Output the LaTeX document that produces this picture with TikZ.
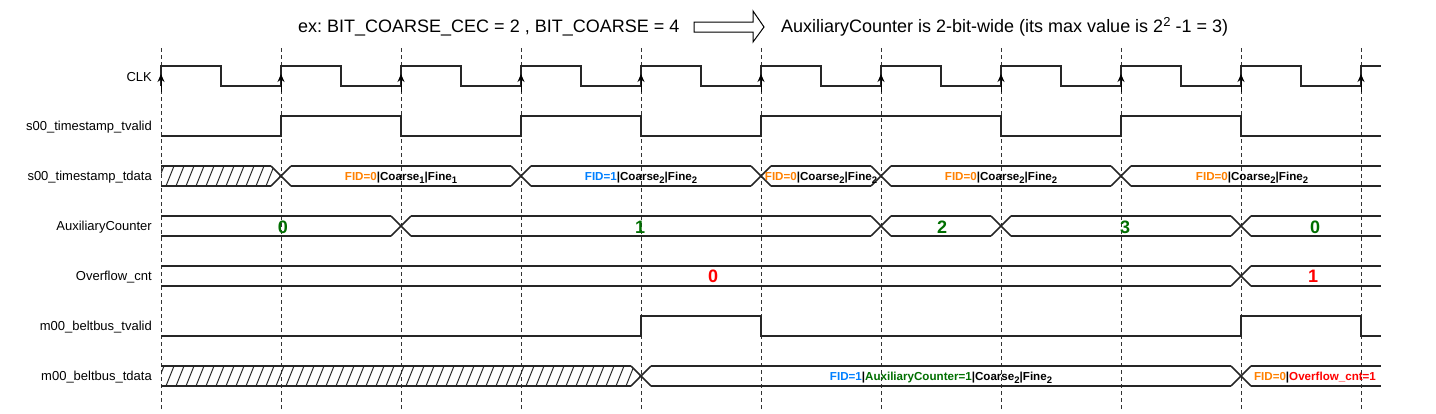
\documentclass[tikz,border=0pt]{standalone}
\usepackage{fontspec}
\setmainfont{Liberation Sans}
\usepackage{tikz}
\usetikzlibrary{arrows.meta}

\definecolor{fidorange}{RGB}{255,128,0}
\definecolor{fidblue}{RGB}{0,127,255}
\definecolor{cntgreen}{RGB}{0,110,0}
\definecolor{ovfred}{RGB}{255,0,0}
\newcommand{\busidx}[1]{\raisebox{-2.5pt}{\fontsize{9.5}{10}\selectfont #1}}
\frenchspacing

\begin{document}
\begin{tikzpicture}[
    x=1pt, y=-1pt,
    signal/.style={draw=black!85, line width=1.6pt, line join=miter},
    gridline/.style={draw=black!80, line width=0.7pt, dash pattern=on 4pt off 3pt},
    hatchline/.style={draw=black!85, line width=1pt},
    clkarrow/.style={draw=black, line width=1pt, -{Stealth[length=8pt, width=7pt]}},
    labeltext/.style={anchor=base east, inner sep=0pt, font=\fontsize{13}{15}\selectfont},
    bustext/.style={anchor=base, inner sep=0pt, font=\bfseries\fontsize{11.6}{14}\selectfont},
    busvalue/.style={anchor=base, inner sep=0pt, font=\bfseries\fontsize{18}{20}\selectfont},
    titletext/.style={anchor=base west, inner sep=0pt, font=\fontsize{18}{21}\selectfont},
]
\useasboundingbox (0,0) rectangle (1436,413);
% clock edges
\foreach \t in {161,281,...,1361} \draw[gridline] (\t,48) -- (\t,410);
% header
\node[titletext](param_text) at (298,32.5){ex: BIT\_COARSE\_CEC = 2 , BIT\_COARSE = 4};
\draw[line width=1pt, fill=white] (694,22) -- (753,22) -- (753,11) -- (764,27) -- (753,42) -- (753,32) -- (694,32) -- cycle;
\node[titletext](width_text) at (781,32.5){AuxiliaryCounter is 2-bit-wide (its max value is 2\raisebox{6pt}{\fontsize{13}{13}\selectfont 2} -1 = 3)};
% signal names
\node[labeltext](clk_text) at (152,81.5){CLK};
\node[labeltext](s_tvalid_text) at (152,130.5){s00\_timestamp\_tvalid};
\node[labeltext](s_tdata_text) at (152,180.5){s00\_timestamp\_tdata};
\node[labeltext](aux_text) at (152,230.5){AuxiliaryCounter};
\node[labeltext](ovf_text) at (152,280.5){Overflow\_cnt};
\node[labeltext](m_tvalid_text) at (152,330.5){m00\_beltbus\_tvalid};
\node[labeltext](m_tdata_text) at (152,380.5){m00\_beltbus\_tdata};
% CLK
\draw[signal] (161,86) \foreach \t in {161,281,...,1241} { -- (\t,66) -- (\t+60,66) -- (\t+60,86) -- (\t+120,86) } -- (1361,66) -- (1381,66);
\foreach \t in {161,281,...,1361} \draw[clkarrow] (\t,92) -- (\t,74);
% s00_timestamp_tvalid
\draw[signal] (161,136) -- (281,136) -- (281,116) -- (401,116) -- (401,136) -- (521,136) -- (521,116) -- (641,116) -- (641,136) -- (761,136) -- (761,116) -- (1001,116) -- (1001,136) -- (1121,136) -- (1121,116) -- (1241,116) -- (1241,136) -- (1381,136);
% s00_timestamp_tdata
\begin{scope}
\clip (161,166) -- (271,166) -- (281,176) -- (271,186) -- (161,186) -- cycle;
\foreach \h in {156,166,...,286} \draw[hatchline] (\h,186) -- (\h+8,166);
\end{scope}
\foreach \a/\b in {161/271, 291/511, 531/751, 771/871, 891/1111, 1131/1381} \draw[signal] (\a,166) -- (\b,166) (\a,186) -- (\b,186);
\foreach \c in {281,521,761,881,1121} \draw[signal] (\c-10,166) -- (\c+10,186) (\c-10,186) -- (\c+10,166);
\node[bustext](s_data1) at (401,180.5){{\color{fidorange}FID=0}|Coarse\busidx{1}|Fine\busidx{1}};
\node[bustext](s_data2) at (641,180.5){{\color{fidblue}FID=1}|Coarse\busidx{2}|Fine\busidx{2}};
\node[bustext](s_data3) at (821,180.5){{\color{fidorange}FID=0}|Coarse\busidx{2}|Fine\busidx{2}};
\node[bustext](s_data4) at (1001,180.5){{\color{fidorange}FID=0}|Coarse\busidx{2}|Fine\busidx{2}};
\node[bustext](s_data5) at (1252,180.5){{\color{fidorange}FID=0}|Coarse\busidx{2}|Fine\busidx{2}};
% AuxiliaryCounter
\foreach \a/\b in {161/391, 411/871, 891/991, 1011/1231, 1251/1381} \draw[signal] (\a,216) -- (\b,216) (\a,236) -- (\b,236);
\foreach \c in {401,881,1001,1241} \draw[signal] (\c-10,216) -- (\c+10,236) (\c-10,236) -- (\c+10,216);
\node[busvalue, cntgreen](aux0) at (283,233){0};
\node[busvalue, cntgreen](aux1) at (640,233){1};
\node[busvalue, cntgreen](aux2) at (942,233){2};
\node[busvalue, cntgreen](aux3) at (1125,233){3};
\node[busvalue, cntgreen](aux4) at (1315,233){0};
% Overflow_cnt
\foreach \a/\b in {161/1231, 1251/1381} \draw[signal] (\a,266) -- (\b,266) (\a,286) -- (\b,286);
\draw[signal] (1231,266) -- (1251,286) (1231,286) -- (1251,266);
\node[busvalue, ovfred](ovf0) at (713,282){0};
\node[busvalue, ovfred](ovf1) at (1313,282){1};
% m00_beltbus_tvalid
\draw[signal] (161,336) -- (641,336) -- (641,316) -- (761,316) -- (761,336) -- (1241,336) -- (1241,316) -- (1361,316) -- (1361,336) -- (1381,336);
% m00_beltbus_tdata
\begin{scope}
\clip (161,366) -- (631,366) -- (641,376) -- (631,386) -- (161,386) -- cycle;
\foreach \h in {156,166,...,646} \draw[hatchline] (\h,386) -- (\h+8,366);
\end{scope}
\foreach \a/\b in {161/631, 651/1231, 1251/1381} \draw[signal] (\a,366) -- (\b,366) (\a,386) -- (\b,386);
\foreach \c in {641,1241} \draw[signal] (\c-10,366) -- (\c+10,386) (\c-10,386) -- (\c+10,366);
\node[bustext](m_data1) at (941,380.5){{\color{fidblue}FID=1}|{\color{cntgreen}AuxiliaryCounter=1}|Coarse\busidx{2}|Fine\busidx{2}};
\node[bustext](m_data2) at (1315,380.5){{\color{fidorange}FID=0}|{\color{ovfred}Overflow\_cnt=1}};
\end{tikzpicture}
\end{document}
